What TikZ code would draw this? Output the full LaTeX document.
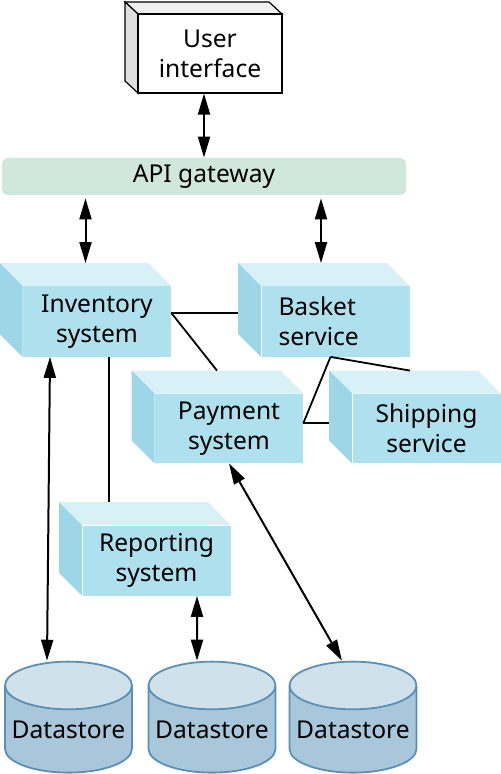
\documentclass[tikz,border=0pt]{standalone}
\usepackage{fontspec}
\setmainfont{Noto Sans}
\usetikzlibrary{shapes.geometric,arrows.meta}

\definecolor{frontblue}{HTML}{AEE0ED}
\definecolor{topblue}{HTML}{D8F1F7}
\definecolor{sideblue}{HTML}{9DD7E7}
\definecolor{gatewaygreen}{HTML}{CFE7DC}
\definecolor{storebody}{HTML}{A9C7DA}
\definecolor{storetop}{HTML}{CFE1EA}
\definecolor{storeline}{HTML}{5A90B5}

\begin{document}
\begin{tikzpicture}[x=0.5pt,y=-0.5pt,
        font=\fontsize{12.3}{15}\selectfont,
        service/.style={rectangle, fill=frontblue, minimum width=74pt, minimum height=35pt, inner sep=0pt, align=center},
        store/.style={cylinder, shape border rotate=90, aspect=0.42, draw=storeline, line width=0.9pt,
            cylinder uses custom fill, cylinder body fill=storebody, cylinder end fill=storetop,
            minimum width=63.5pt, minimum height=55.5pt, inner sep=0pt},
        link/.style={line width=0.9pt},
        twoway/.style={line width=1pt, {Triangle[length=10.5pt,width=6pt]}-{Triangle[length=10.5pt,width=6pt]}}]

        \useasboundingbox (0,0) rectangle (501,774);

        % draw user interface box
        \fill[draw, line width=0.6pt, fill=black!6] (138,14) -- (125,2) -- (269,2) -- (282,14) -- cycle;
        \fill[draw, line width=0.6pt, fill=black!13] (138,14) -- (125,2) -- (125,81) -- (138,93) -- cycle;
        \node[draw, fill=white, line width=0.6pt, minimum width=72pt, minimum height=39.5pt, inner sep=0pt, align=center] (ui) at (210,53.5) {User\\interface};

        % draw gateway
        \node[fill=gatewaygreen, rounded corners=3pt, minimum width=202pt, minimum height=18.5pt] (api) at (204,176.5) {API gateway};

        % draw services
        \node[service] (inv) at (97,321.5) {Inventory\\system};
        \node[service, align=left, text width=57pt] (bas) at (335.5,321.5) {Basket\\service};
        \node[service, minimum height=34.5pt] (pay) at (229,428.5) {Payment\\system};
        \node[service, minimum height=34.5pt] (shp) at (426.5,428.5) {Shipping\\service};
        \node[service] (rep) at (156.5,560.5) {Reporting\\system};

        % draw top and side faces
        \foreach \n in {inv,bas,pay,shp,rep} {
            \fill[topblue] (\n.north west) -- ([shift={(-23,-23)}]\n.north west) -- ([shift={(-23,-23)}]\n.north east) -- (\n.north east) -- cycle;
            \fill[sideblue] (\n.north west) -- ([shift={(-23,-23)}]\n.north west) -- ([shift={(-23,-23)}]\n.south west) -- (\n.south west) -- cycle;
        }

        % draw datastores
        \node[store] (ds1) at (68.5,729.5) {Datastore};
        \node[store] (ds2) at (212,729.5) {Datastore};
        \node[store] (ds3) at (353,729.5) {Datastore};

        % draw gateway arrows
        \draw[twoway] (api.north |- ui.south) -- (api.north);
        \coordinate (inv-back) at ([shift={(-11.5,-23)}]inv.north);
        \coordinate (bas-back) at ([shift={(-14.5,-23)}]bas.north);
        \draw[twoway, shorten <=1.5pt] (inv-back |- api.south) -- (inv-back);
        \draw[twoway, shorten <=1.5pt] (bas-back |- api.south) -- (bas-back);

        % draw links
        \coordinate (inv-r) at ([shift={(0,-8.5)}]inv.east);
        \coordinate (bas-l) at ([shift={(-23,0)}]bas.west);
        \coordinate (bas-b) at ([shift={(-5,0)}]bas.south);
        \coordinate (pay-r) at ([shift={(0,-5.5)}]pay.east);
        \draw[link] (inv-r) -- (inv-r -| bas-l);
        \draw[link] (inv-r) -- ([shift={(-12,-23)}]pay.north);
        \draw[link] (bas-b) -- (pay-r);
        \draw[link] (pay-r) -- ([shift={(-23,-5.5)}]shp.west);
        \draw[link] (bas-b) -- ([shift={(-16.5,-23)}]shp.north);
        \draw[link] ([shift={(12,0)}]inv.south) -- ([shift={(-47.5,-23)}]rep.north);

        % draw datastore arrows
        \draw[twoway] ([shift={(-47,0)}]inv.south) -- ([shift={(-21.5,0)}]ds1.north);
        \draw[twoway] ([shift={(40.5,0)}]rep.south) -- ([shift={(-15,0)}]ds2.north);
        \draw[twoway] (pay.south) -- ([shift={(-11,0)}]ds3.north);
\end{tikzpicture}
\end{document}
